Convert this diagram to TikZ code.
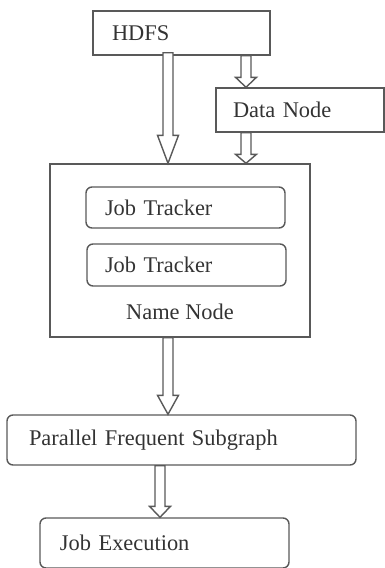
\documentclass[tikz,border=0pt]{standalone}
\usepackage{fontspec}
\setmainfont{Liberation Serif}
\usetikzlibrary{calc}

% open block arrow: #1 start of the shaft, #2 tip, #3 head length
\newcommand{\hollowarrow}[3]{%
  \draw[hollow] ($(#1)+(-5,0)$) -- ($(#2)+(-5,-#3)$) -- ($(#2)+(-10.5,-#3)$)
    -- (#2) -- ($(#2)+(10.5,-#3)$) -- ($(#2)+(5,-#3)$) -- ($(#1)+(5,0)$) -- cycle;}

\begin{document}
\begin{tikzpicture}[
    x=0.5pt, y=-0.5pt,
    line width=0.7pt,
    every node/.style={font=\fontsize{11.2}{13}\selectfont, text=black!80},
    box/.style={draw=black!65, rectangle, inner ysep=0pt, align=left},
    roundbox/.style={box, rounded corners=3pt},
    hollow/.style={draw=black!65, fill=white, line join=miter}
  ]
  \useasboundingbox (0,0) rectangle (385,568);

  %--------------------------------------
  % 1) storage layer
  %--------------------------------------
  \node[box, minimum width=88.5pt, minimum height=22pt,
        inner xsep=9.5pt, text width=69.5pt] (hdfs) at (181.5,33) {HDFS};
  \node[box, minimum width=84pt, minimum height=22pt,
        inner xsep=8.5pt, text width=67pt] (datanode) at (300,110) {Data Node};

  %--------------------------------------
  % 2) name node with its two trackers
  %--------------------------------------
  \node[box, minimum width=130pt, minimum height=86.5pt, inner sep=0pt] (namenode) at (180,250.5) {};
  \node[roundbox, minimum width=99.5pt, minimum height=20.5pt,
        inner xsep=9.5pt, text width=80.5pt] (jt1) at (185.5,207.5) {Job Tracker};
  \node[roundbox, minimum width=99.5pt, minimum height=21pt,
        inner xsep=9pt, text width=81.5pt] (jt2) at (186.5,265) {Job Tracker};
  \node (nnlabel) at (180,312) {Name Node};

  %--------------------------------------
  % 3) mining and execution
  %--------------------------------------
  \node[roundbox, minimum width=174.5pt, minimum height=25pt,
        inner xsep=11pt, text width=152.5pt] (pfs) at (181.5,440) {Parallel Frequent Subgraph};
  \node[roundbox, minimum width=124.5pt, minimum height=25pt,
        inner xsep=10pt, text width=104.5pt] (jobexec) at (164.5,543) {Job Execution};

  %--------------------------------------
  % 4) block arrows
  %--------------------------------------
  % HDFS -> Name Node (long one)
  \coordinate (t1) at ($(namenode.north)+(-12,0)$);
  \coordinate (s1) at ($(t1 |- hdfs.south)+(0,-3)$);
  \hollowarrow{s1}{t1}{28}

  % HDFS -> Data Node -> Name Node
  \coordinate (t2) at ($(datanode.north)+(-54,0)$);
  \coordinate (s2) at (t2 |- hdfs.south);
  \hollowarrow{s2}{t2}{10}
  \coordinate (t3) at (t2 |- namenode.north);
  \coordinate (s3) at (t2 |- datanode.south);
  \hollowarrow{s3}{t3}{9}

  % Name Node -> Parallel Frequent Subgraph
  \coordinate (t4) at ($(pfs.north)+(-13.5,0)$);
  \coordinate (s4) at (t4 |- namenode.south);
  \hollowarrow{s4}{t4}{19}

  % Parallel Frequent Subgraph -> Job Execution
  \coordinate (t5) at ($(jobexec.north)+(-4.5,0)$);
  \coordinate (s5) at (t5 |- pfs.south);
  \hollowarrow{s5}{t5}{11}

\end{tikzpicture}
\end{document}
